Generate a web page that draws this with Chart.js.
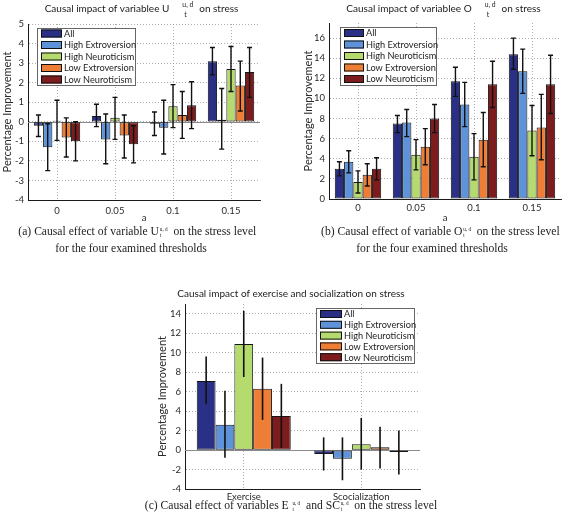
<!DOCTYPE html>
<html>
<head>
<meta charset="utf-8">
<script src="https://cdn.jsdelivr.net/npm/chart.js"></script>
<style>
  body { margin: 0; background: #fff; }
  #page { position: relative; width: 563px; height: 523px; overflow: hidden; background: #fff; }
  canvas { position: absolute; }
  .cap {
    position: absolute; font-family: "Liberation Serif", "Times New Roman", serif;
    font-size: 13.5px; line-height: 17px; color: #222; text-align: center;
    white-space: nowrap; transform: scaleX(0.86);
  }
  .ss { display: inline-block; vertical-align: -2px; font-size: 6px; line-height: 6px; text-align: left; margin-left: 1px; }
  .ss span { display: block; }
</style>
</head>
<body>
<div id="page">
  <canvas id="chartU" width="282" height="225" style="left:0;top:0"></canvas>
  <canvas id="chartO" width="282" height="225" style="left:281px;top:0"></canvas>
  <canvas id="chartE" width="292" height="245" style="left:140px;top:262px"></canvas>

  <div class="cap" style="left:0;top:222px;width:262px">(a) Causal effect of variable U<span class="ss"><span>u, d</span><span>t</span></span>&nbsp; on the stress level<br>for the four examined thresholds</div>
  <div class="cap" style="left:303px;top:222px;width:258px">(b) Causal effect of variable O<span class="ss"><span>u, d</span><span>t</span></span>&nbsp; on the stress level<br>for the four examined thresholds</div>
  <div class="cap" style="left:121px;top:496px;width:340px">(c) Causal effect of variables E <span class="ss"><span>u, d</span><span>t</span></span>&nbsp; and SC<span class="ss"><span>u, d</span><span>t</span></span>&nbsp; on the stress level</div>
</div>

<script>
const thresholds = ['0', '0.05', '0.1', '0.15'];
const activities = ['Exercise', 'Scocialization'];
const groups = ['All', 'High Extroversion', 'High Neuroticism', 'Low Extroversion', 'Low Neuroticism'];

const uTicks = [-4, -3, -2, -1, 0, 1, 2, 3, 4, 5];
const oTicks = [0, 2, 4, 6, 8, 10, 12, 14, 16];
const eTicks = [-4, -2, 0, 2, 4, 6, 8, 10, 12, 14];

// one row per group, one column per threshold
const uMean = [
  [-0.2, 0.3, -0.1, 3.1],
  [-1.3, -0.9, -0.3, 0.1],
  [0.05, 0.2, 0.8, 2.7],
  [-0.8, -0.7, 0.35, 1.85],
  [-1.0, -1.15, 0.85, 2.55]
];
const uLow = [
  [-0.75, -0.25, -0.7, 2.4],
  [-2.5, -2.15, -1.65, -1.4],
  [-0.95, -0.9, -0.3, 1.55],
  [-1.8, -1.85, -0.85, 0.55],
  [-2.0, -2.1, -0.35, 1.25]
];
const uHigh = [
  [0.35, 0.9, 0.5, 3.8],
  [-0.1, 0.4, 1.1, 1.7],
  [1.1, 1.25, 1.9, 3.85],
  [0.2, 0.35, 1.55, 3.1],
  [0.0, -0.2, 2.05, 3.8]
];

const oMean = [
  [3.0, 7.5, 11.7, 14.4],
  [3.7, 7.6, 9.4, 12.7],
  [1.7, 4.4, 4.2, 6.8],
  [2.4, 5.2, 5.9, 7.1],
  [3.0, 8.0, 11.4, 11.4]
];
const oLow = [
  [2.3, 6.6, 10.2, 12.9],
  [2.6, 6.2, 7.2, 10.5],
  [0.6, 2.9, 1.9, 4.3],
  [1.3, 3.4, 3.2, 3.9],
  [1.9, 6.6, 9.1, 8.5]
];
const oHigh = [
  [3.7, 8.3, 13.1, 16.0],
  [4.8, 8.9, 11.6, 14.9],
  [2.8, 5.9, 6.5, 9.3],
  [3.5, 7.0, 8.6, 10.4],
  [4.1, 9.4, 13.7, 14.3]
];

// exercise / socialization
const eMean = [[7.1, -0.4], [2.6, -0.9], [10.9, 0.6], [6.3, 0.3], [3.5, -0.2]];
const eLow = [[4.7, -2.1], [-0.8, -3.1], [7.5, -2.0], [3.1, -1.9], [0.2, -2.5]];
const eHigh = [[9.6, 1.3], [6.1, 1.3], [14.3, 3.3], [9.5, 2.4], [6.8, 2.0]];

const groupColors = ['#2b3087', '#5f93d9', '#b5da6d', '#ee7e35', '#7d1c1e'];

const FONT = 'Lato, "Liberation Sans", sans-serif';
Chart.defaults.font.family = FONT;
Chart.defaults.color = '#2a2a2a';

// zero line, drawn under the bars
const baseline = {
  id: 'baseline',
  beforeDatasetsDraw(chart) {
    const y = chart.scales.y, a = chart.chartArea, ctx = chart.ctx;
    if (y.min >= 0) return;
    const py = Math.round(y.getPixelForValue(0)) + 0.5;
    ctx.save();
    ctx.strokeStyle = '#8a8a8a';
    ctx.lineWidth = 1;
    ctx.beginPath();
    ctx.moveTo(a.left, py);
    ctx.lineTo(a.right, py);
    ctx.stroke();
    ctx.restore();
  }
};

const errorBars = {
  id: 'errorBars',
  afterDatasetsDraw(chart, args, opts) {
    const ctx = chart.ctx, y = chart.scales.y;
    ctx.save();
    ctx.strokeStyle = '#111';
    ctx.lineWidth = opts.width || 1.4;
    chart.data.datasets.forEach((ds, i) => {
      chart.getDatasetMeta(i).data.forEach((bar, j) => {
        const top = y.getPixelForValue(ds.errHigh[j]);
        const bot = y.getPixelForValue(ds.errLow[j]);
        ctx.beginPath();
        ctx.moveTo(bar.x, top);
        ctx.lineTo(bar.x, bot);
        if (opts.cap) {
          ctx.moveTo(bar.x - opts.cap, top); ctx.lineTo(bar.x + opts.cap, top);
          ctx.moveTo(bar.x - opts.cap, bot); ctx.lineTo(bar.x + opts.cap, bot);
        }
        ctx.stroke();
      });
    });
    ctx.restore();
  }
};

const boxLegend = {
  id: 'boxLegend',
  afterDraw(chart, args, o) {
    const ctx = chart.ctx;
    ctx.save();
    ctx.fillStyle = '#fff';
    ctx.fillRect(o.x, o.y, o.w, o.h);
    ctx.strokeStyle = '#666';
    ctx.lineWidth = 1;
    ctx.strokeRect(o.x + 0.5, o.y + 0.5, o.w, o.h);
    ctx.font = '9.2px ' + FONT;
    ctx.textBaseline = 'middle';
    chart.data.datasets.forEach((ds, i) => {
      const cy = o.y + o.first + i * o.row;
      const sx = o.x + 4;
      ctx.fillStyle = ds.backgroundColor;
      ctx.fillRect(sx, cy - 4, o.sw, 8);
      ctx.strokeStyle = '#111';
      ctx.strokeRect(sx + 0.5, cy - 3.5, o.sw - 1, 7);
      ctx.fillStyle = '#222';
      ctx.fillText(ds.label, sx + o.sw + 2, cy + 0.5);
    });
    ctx.restore();
  }
};

// title with the stacked u,d / t marks
const splitTitle = {
  id: 'splitTitle',
  afterDraw(chart, args, o) {
    const ctx = chart.ctx;
    ctx.save();
    ctx.fillStyle = '#222';
    ctx.textBaseline = 'middle';
    const big = '10px ' + FONT, small = '6.8px ' + FONT;
    ctx.font = big;
    const wMain = ctx.measureText(o.main).width;
    const wTail = o.tail ? ctx.measureText(o.tail).width : 0;
    ctx.font = small;
    const wSup = o.sup ? ctx.measureText(o.sup).width : 0;
    const total = o.sup ? wMain + 13 + wSup + 6 + wTail : wMain;
    let x = o.cx - total / 2;
    ctx.font = big;
    ctx.fillText(o.main, x, o.y);
    if (o.sup) {
      x += wMain + 13;
      ctx.font = small;
      ctx.fillText(o.sup, x, o.y - 4);
      ctx.fillText(o.sub, x + 2, o.y + 6);
      x += wSup + 6;
      ctx.font = big;
      ctx.fillText(o.tail, x, o.y);
    }
    ctx.restore();
  }
};

function buildDatasets(mean, low, high) {
  return groups.map((g, i) => ({
    label: g,
    data: mean[i],
    errLow: low[i],
    errHigh: high[i],
    backgroundColor: groupColors[i],
    borderColor: '#151515',
    borderWidth: 1,
    borderSkipped: false,
    categoryPercentage: 0.8,
    barPercentage: 1.0
  }));
}

function makeChart(id, cfg) {
  return new Chart(document.getElementById(id), {
    type: 'bar',
    data: { labels: cfg.labels, datasets: buildDatasets(cfg.mean, cfg.low, cfg.high) },
    options: {
      responsive: false,
      animation: false,
      layout: { padding: cfg.padding },
      plugins: {
        legend: { display: false },
        tooltip: { enabled: false },
        errorBars: { cap: cfg.cap, width: cfg.errWidth },
        boxLegend: cfg.legend,
        splitTitle: cfg.title
      },
      scales: {
        x: {
          afterFit: s => { s.height = cfg.xHeight; },
          ticks: { padding: cfg.xPad, color: '#2a2a2a', font: { size: 9.5 } },
          grid: { offset: false, color: '#9a9a9a', lineWidth: 0.8, drawTicks: false },
          border: { color: '#1a1a1a', width: 1, dash: [1, 2] },
          title: { display: !!cfg.xTitle, text: cfg.xTitle, font: { size: 9.5 }, padding: { top: 0, bottom: 1 } }
        },
        y: {
          min: cfg.min,
          max: cfg.max,
          afterFit: s => { s.width = cfg.yWidth; },
          afterBuildTicks: s => { s.ticks = cfg.ticks.map(v => ({ value: v })); },
          ticks: { autoSkip: false, padding: 4, color: '#2a2a2a', font: { size: 9.5 } },
          grid: { color: '#9a9a9a', lineWidth: 0.8, drawTicks: false },
          border: { color: '#1a1a1a', width: 1, dash: [1, 2] },
          title: { display: true, text: 'Percentage Improvement', font: { size: 11 }, padding: { top: 1, bottom: 0 } }
        }
      }
    },
    plugins: [baseline, errorBars, boxLegend, splitTitle]
  });
}

makeChart('chartU', {
  labels: thresholds, mean: uMean, low: uLow, high: uHigh, ticks: uTicks,
  min: -4, max: 5, cap: 2.5, errWidth: 1.4,
  padding: { left: 0, top: 24, right: 22, bottom: 0 },
  yWidth: 28, xHeight: 25, xPad: 5, xTitle: 'a',
  legend: { x: 37, y: 28, w: 98, h: 57, first: 5.5, row: 11.5, sw: 21 },
  title: { main: 'Causal impact of variablee U', sup: 'u, d', sub: 't', tail: 'on stress', cx: 141.5, y: 9 }
});

makeChart('chartO', {
  labels: thresholds, mean: oMean, low: oLow, high: oHigh, ticks: oTicks,
  min: 0, max: 17.5, cap: 2.5, errWidth: 1.4,
  padding: { left: 20, top: 23, right: 2, bottom: 0 },
  yWidth: 28, xHeight: 26, xPad: 3, xTitle: 'a',
  legend: { x: 59, y: 27, w: 96, h: 58, first: 6, row: 11.5, sw: 20 },
  title: { main: 'Causal impact of variablee O', sup: 'u, d', sub: 't', tail: 'on stress', cx: 162.5, y: 9 }
});

makeChart('chartE', {
  labels: activities, mean: eMean, low: eLow, high: eHigh, ticks: eTicks,
  min: -4, max: 15, cap: 0, errWidth: 1.6,
  padding: { left: 15, top: 42, right: 12, bottom: 0 },
  yWidth: 30, xHeight: 18, xPad: 2, xTitle: '',
  legend: { x: 176, y: 46, w: 98, h: 55, first: 6, row: 10.8, sw: 22 },
  title: { main: 'Causal impact of exercise and socialization on stress', cx: 151, y: 32 }
});
</script>
</body>
</html>
